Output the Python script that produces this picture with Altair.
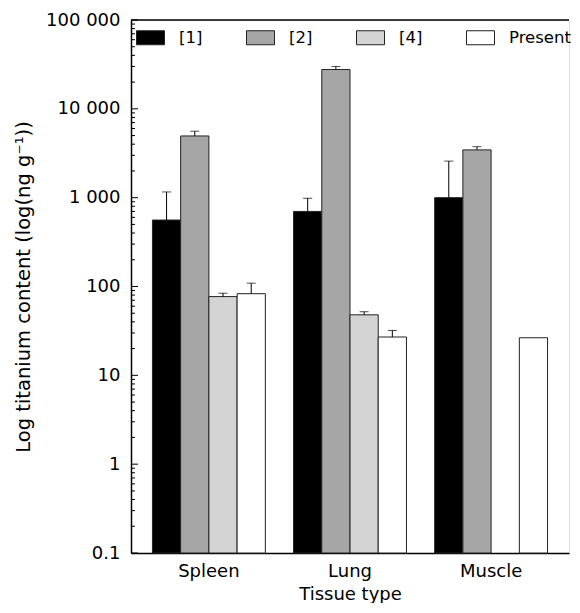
import altair as alt
import pandas as pd

# ---------------- data ----------------
tissues = ["Spleen", "Lung", "Muscle"]
series = ["[1]", "[2]", "[4]", "Present"]
colors = ["#000000", "#a6a6a6", "#d4d4d4", "#ffffff"]

# titanium content (ng/g); None = not reported
vals_1 = [560, 700, 1000]
vals_2 = [4950, 27700, 3450]
vals_4 = [77, 48, None]
vals_present = [83, 27, 26.5]

# upper end of error bars (ng/g); None = no error bar
hi_1 = [1160, 985, 2580]
hi_2 = [5600, 30000, 3750]
hi_4 = [84, 52, None]
hi_present = [109, 32, None]

y_major = [0.1, 1, 10, 100, 1000, 10000, 100000]
y_major_labels = ["0.1", "1", "10", "100", "1 000", "10 000", "100 000"]
y_minor = [m * 10 ** e for e in range(-1, 5) for m in range(2, 10)]

# ---------------- tables ----------------
rows = []
for s, vals, his in zip(series, [vals_1, vals_2, vals_4, vals_present],
                        [hi_1, hi_2, hi_4, hi_present]):
    for t, v, h in zip(tissues, vals, his):
        if v is not None:
            rows.append({"tissue": t, "series": s, "value": v, "hi": h})
df = pd.DataFrame(rows)
df_err = df.dropna(subset=["hi"])

FONT = "DejaVu Sans"
W, H = 438, 533

label_expr = " : ".join(
    f"datum.value == {v} ? '{l}'" for v, l in zip(y_major, y_major_labels)
) + " : ''"

yscale = alt.Scale(type="log", domain=[0.1, 100000], nice=False)
xscale = alt.Scale(paddingInner=0.2, paddingOuter=0.152)
x_enc = alt.X(
    "tissue:N", sort=tissues, scale=xscale,
    axis=alt.Axis(title="Tissue type", labelAngle=0, ticks=False,
                  domainColor="black", domainWidth=1.5,
                  labelFontSize=18, labelPadding=9, labelColor="black",
                  titleFontSize=18, titlePadding=5, titleColor="black",
                  titleFontWeight="normal", labelFont=FONT, titleFont=FONT),
)
x_plain = alt.X("tissue:N", sort=tissues, scale=xscale)
xoff = alt.XOffset("series:N", sort=series,
                   scale=alt.Scale(paddingInner=0, paddingOuter=0))

bars = alt.Chart(df).mark_bar(stroke="#222222", strokeWidth=1).encode(
    x=x_enc,
    xOffset=xoff,
    y=alt.Y("value:Q", scale=yscale, stack=None,
            axis=alt.Axis(values=y_major, labelExpr=label_expr, tickSize=0,
                          grid=False, domainColor="black", domainWidth=1.5,
                          labelFontSize=18, labelPadding=11, labelColor="black",
                          labelFont=FONT, titleFont=FONT,
                          title="Log titanium content (log(ng g⁻¹))",
                          titleFontSize=19.5, titlePadding=12, titleColor="black",
                          titleFontWeight="normal")),
    color=alt.Color(
        "series:N", sort=series,
        scale=alt.Scale(domain=series, range=colors),
        legend=alt.Legend(title=None, orient="none", legendX=5, legendY=3,
                          direction="horizontal",
                          symbolType="M-1,-0.5H1V0.5H-1Z", symbolSize=784,
                          symbolStrokeColor="#222222", symbolStrokeWidth=1,
                          symbolOpacity=1,
                          labelFontSize=16.5, labelFont=FONT, labelColor="black",
                          labelOffset=14, columnPadding=41),
    ),
)

err_rule = alt.Chart(df_err).mark_rule(color="black", strokeWidth=1).encode(
    x=x_plain, xOffset=xoff, y="value:Q", y2="hi:Q")
err_cap = alt.Chart(df_err).mark_tick(color="black", thickness=1, size=9,
                                      orient="horizontal").encode(
    x=x_plain, xOffset=xoff, y="hi:Q")

major_ticks = alt.Chart(pd.DataFrame({"t": y_major})).mark_rule(
    color="black", strokeWidth=1).encode(
    y="t:Q", x=alt.value(0), x2=alt.value(7))
minor_ticks = alt.Chart(pd.DataFrame({"t": y_minor})).mark_rule(
    color="black", strokeWidth=1).encode(
    y="t:Q", x=alt.value(0), x2=alt.value(4))
top_line = alt.Chart(pd.DataFrame({"t": [100000]})).mark_rule(
    color="black", strokeWidth=1.5).encode(
    y="t:Q", x=alt.value(0), x2=alt.value(W))

chart = alt.layer(bars, err_rule, err_cap, major_ticks, minor_ticks, top_line
).properties(
    width=W, height=H,
    padding={"left": 5, "top": 3, "right": 0, "bottom": 0},
).configure_view(stroke=None).configure(font=FONT)

chart.save("out.html", embed_options={"renderer": "svg", "actions": False})
